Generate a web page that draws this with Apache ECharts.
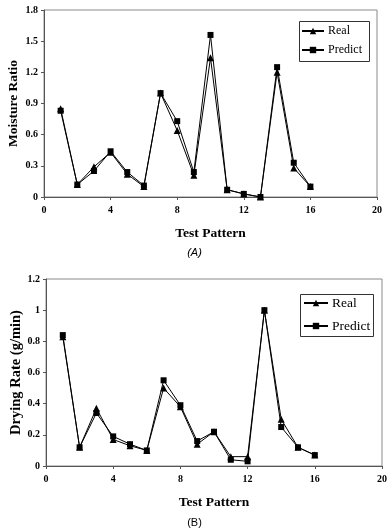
<!DOCTYPE html>
<html>
<head>
    <meta charset="utf-8">
    <title>Real vs Predict</title>
    <script src="https://cdn.jsdelivr.net/npm/echarts@6/dist/echarts.min.js"></script>
    <style>
        body { margin: 0; background: #fff; }
    </style>
</head>
<body>

<div id="main" style="width: 389px;height:529px;"></div>

<script type="text/javascript">
    // test pattern numbers
    var patterns = [1, 2, 3, 4, 5, 6, 7, 8, 9, 10, 11, 12, 13, 14, 15, 16];

    // (A) moisture ratio
    var moistReal    = [0.85, 0.12, 0.29, 0.43, 0.22, 0.10, 1.00, 0.64, 0.21, 1.34, 0.07, 0.03, 0.00, 1.20, 0.28, 0.10];
    var moistPredict = [0.83, 0.12, 0.25, 0.44, 0.24, 0.11, 1.00, 0.73, 0.24, 1.56, 0.07, 0.03, 0.00, 1.25, 0.33, 0.10];

    // (B) drying rate (g/min)
    var rateReal    = [0.83, 0.12, 0.37, 0.17, 0.13, 0.10, 0.50, 0.38, 0.14, 0.22, 0.06, 0.06, 1.00, 0.30, 0.12, 0.07];
    var ratePredict = [0.84, 0.12, 0.34, 0.19, 0.14, 0.10, 0.55, 0.39, 0.16, 0.22, 0.04, 0.03, 1.00, 0.25, 0.12, 0.07];

    function pairs(ys) {
        var out = [];
        for (var i = 0; i < patterns.length; i ++){
            out.push([patterns[i], ys[i]]);
        }
        return out;
    }

    var serif = '"Liberation Serif", "DejaVu Serif", serif';
    var axisColor = '#555';

    function xAx(gridIndex) {
        return {
            type: 'value',
            gridIndex: gridIndex,
            min: 0,
            max: 20,
            interval: 4,
            name: 'Test Pattern',
            nameLocation: 'middle',
            nameGap: 30,
            nameMoveOverlap: false,
            nameTextStyle: { fontFamily: serif, fontWeight: 'bold', fontSize: 13.5, color: '#000' },
            axisLine: { lineStyle: { color: axisColor } },
            axisTick: { inside: false, length: 3, lineStyle: { color: axisColor } },
            axisLabel: { fontFamily: serif, fontWeight: 'bold', fontSize: 10, color: '#000', margin: 8 },
            splitLine: { show: false }
        };
    }

    function yAx(gridIndex, max, step, name, gap, size, decimals) {
        return {
            type: 'value',
            gridIndex: gridIndex,
            min: 0,
            max: max,
            interval: step,
            name: name,
            nameLocation: 'middle',
            nameGap: gap,
            nameMoveOverlap: false,
            nameTextStyle: { fontFamily: serif, fontWeight: 'bold', fontSize: size, color: '#000' },
            axisLine: { show: true, lineStyle: { color: axisColor } },
            axisTick: { show: true, inside: false, length: 3, lineStyle: { color: axisColor } },
            axisLabel: {
                fontFamily: serif, fontWeight: 'bold', fontSize: 10, color: '#000', margin: 6,
                formatter: function (v) {
                    if (v === 0) return '0';
                    var s = v.toFixed(decimals);
                    return decimals === 1 ? s : String(parseFloat(s));
                }
            },
            splitLine: { show: false }
        };
    }

    function lineSeries(name, data, xi, yi, symbol) {
        return {
            name: name,
            type: 'line',
            xAxisIndex: xi,
            yAxisIndex: yi,
            data: data,
            symbol: symbol,
            symbolSize: symbol === 'rect' ? 6 : 7,
            lineStyle: { color: '#000', width: 1 },
            itemStyle: { color: '#000' },
            emphasis: { disabled: true }
        };
    }

    var chart = echarts.init(document.getElementById('main'));

    chart.setOption({
        animation: false,
        grid: [
            { left: 44, right: 12, top: 10, bottom: 332, outerBoundsMode: 'none', show: true, borderColor: '#8a8a8a', borderWidth: 1 },
            { left: 46, right: 7, top: 279, bottom: 63, outerBoundsMode: 'none', show: true, borderColor: '#8a8a8a', borderWidth: 1 }
        ],
        legend: [
            {
                data: ['Real', 'Predict'],
                orient: 'vertical',
                left: 301, top: 25,
                itemGap: 7, itemWidth: 22, itemHeight: 8,
                padding: 0,
                textStyle: { fontFamily: serif, fontSize: 12, color: '#000', padding: [0, 0, 0, -1] },
                selectedMode: false
            },
            {
                data: ['Real B', 'Predict B'],
                orient: 'vertical',
                left: 303, top: 296,
                itemGap: 9, itemWidth: 24, itemHeight: 8,
                padding: 0,
                formatter: function (n) { return n.replace(' B', ''); },
                textStyle: { fontFamily: serif, fontSize: 13.5, color: '#000', padding: [0, 0, 0, -1] },
                selectedMode: false
            }
        ],
        xAxis: [xAx(0), xAx(1)],
        yAxis: [
            yAx(0, 1.8, 0.3, 'Moisture Ratio', 23, 13.5, 1),
            yAx(1, 1.2, 0.2, 'Drying Rate (g/min)', 22, 14.5, 2)
        ],
        graphic: [
            {
                type: 'rect', left: 297, top: 19,
                shape: { width: 70, height: 40 },
                style: { fill: 'none', stroke: '#333', lineWidth: 1 }
            },
            {
                type: 'rect', left: 298, top: 292,
                shape: { width: 73, height: 42 },
                style: { fill: 'none', stroke: '#333', lineWidth: 1 }
            },
            {
                type: 'text', left: 'center', top: 247,
                style: { text: '(A)', font: 'italic 11px "Liberation Sans", Arial, sans-serif', fill: '#000' }
            },
            {
                type: 'text', left: 'center', top: 517,
                style: { text: '(B)', font: '11px "Liberation Sans", Arial, sans-serif', fill: '#000' }
            }
        ],
        series: [
            lineSeries('Real', pairs(moistReal), 0, 0, 'triangle'),
            lineSeries('Predict', pairs(moistPredict), 0, 0, 'rect'),
            lineSeries('Real B', pairs(rateReal), 1, 1, 'triangle'),
            lineSeries('Predict B', pairs(ratePredict), 1, 1, 'rect')
        ]
    });
</script>
</body>
</html>
